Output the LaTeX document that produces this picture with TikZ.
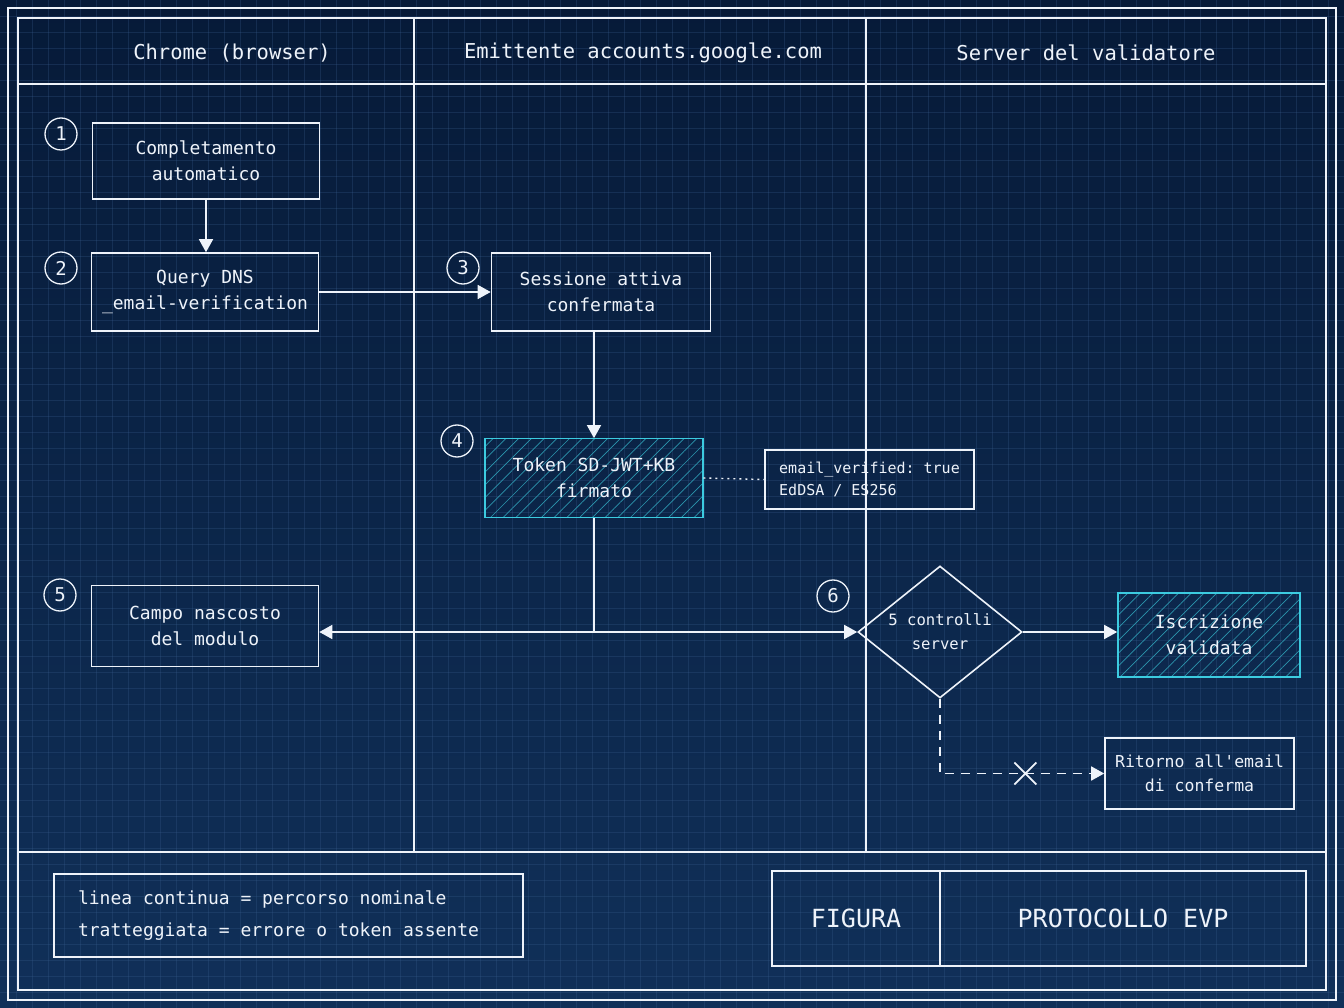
\documentclass[tikz,border=0pt]{standalone}
\usepackage{fontspec}
\setmonofont{DejaVu Sans Mono}
\usetikzlibrary{arrows.meta,calc,shapes.geometric,patterns.meta}
\definecolor{navytop}{HTML}{061A38}
\definecolor{navybot}{HTML}{103059}
\definecolor{gridc}{HTML}{3A5E8E}
\definecolor{ink}{HTML}{EEF3FA}
\definecolor{cyanb}{HTML}{3CCBE0}
\tikzset{>={Triangle[width=14pt,length=13pt]},every node/.style={font=\ttfamily,text=ink},
frame/.style={draw=ink,line width=1.4pt},gridline/.style={gridc,line width=.5pt,opacity=.28},
flow/.style={draw=ink,line width=1.6pt,->},edge/.style={draw=ink,line width=1.6pt},
fail/.style={flow,dash pattern=on 9pt off 7pt},dots/.style={draw=ink,line width=1.4pt,dash pattern=on 2pt off 4pt},
box/.style={draw=ink,line width=1.6pt,align=center,font=\ttfamily\fontsize{18}{26}\selectfont},
hatchbox/.style={box,draw=cyanb,pattern={Lines[angle=45,distance=9pt,line width=.7pt]},pattern color=cyanb!70!navytop},
stepnum/.style={circle,draw=ink,line width=1.3pt,minimum size=32pt,inner sep=0pt,font=\ttfamily\fontsize{19}{19}\selectfont},
lane/.style={font=\ttfamily\fontsize{20.5}{24}\selectfont},
legend/.style={draw=ink,line width=1.6pt,align=flush left,text width=421pt,inner xsep=24pt,minimum height=83pt,font=\ttfamily\fontsize{18}{32}\selectfont},
titlebox/.style={box,minimum height=95pt,font=\ttfamily\fontsize{25}{28}\selectfont}}
\begin{document}
\begin{tikzpicture}[x=1pt,y=-1pt]
\useasboundingbox (0,0) rectangle (1344,1008);
\shade[top color=navytop,bottom color=navybot] (0,0) rectangle (1344,1008);
\foreach \g in {16,32,...,1328}{\draw[gridline] (\g,0)--(\g,1008);}
\foreach \g in {16,32,...,992}{\draw[gridline] (0,\g)--(1344,\g);}
\draw[frame] (8,8) rectangle (1336,1000);\draw[frame] (18,18) rectangle (1326,990);
\draw[frame] (18,84)--(1326,84);\draw[frame] (18,852)--(1326,852);
\draw[frame] (414,18)--(414,852);\draw[frame] (866,18)--(866,852);
\node[lane] (laneA) at (232,53){Chrome (browser)};
\node[lane] (laneB) at (643,53){Emittente accounts.google.com};
\node[lane] (laneC) at (1086,53){Server del validatore};
\node[stepnum] (n1) at (61,134){1};
\node[box,minimum width=227pt,minimum height=76pt] (auto) at (206,161){Completamento\\automatico};
\node[stepnum] (n2) at (61,268){2};
\node[box,minimum width=227pt,minimum height=78pt] (dns) at (205,292){Query DNS\\\_email-verification};
\node[stepnum] (n3) at (463,268){3};
\node[box,minimum width=219pt,minimum height=78pt] (sess) at (601,292){Sessione attiva\\confermata};
\node[stepnum] (n4) at (457,441){4};
\node[hatchbox,minimum width=218pt,minimum height=79pt] (tok) at (594,478){Token SD-JWT+KB\\firmato};
\node[box,align=left,minimum width=209pt,minimum height=59pt,font=\ttfamily\fontsize{15}{22}\selectfont] (note) at (869.5,479.5){email\_verified: true\\EdDSA / ES256};
\node[stepnum] (n5) at (60,595){5};
\node[box,minimum width=227pt,minimum height=81pt] (campo) at (205,626){Campo nascosto\\del modulo};
\node[stepnum] (n6) at (833,596){6};
\node[diamond,draw=ink,line width=1.6pt,aspect=1.24,inner sep=0pt,minimum width=164pt,minimum height=132pt,align=center,font=\ttfamily\fontsize{15.6}{24}\selectfont] (chk) at (940,632){5 controlli\\server};
\node[hatchbox,minimum width=182pt,minimum height=84pt] (valid) at (1209,635){Iscrizione\\validata};
\node[box,minimum width=189pt,minimum height=71pt,font=\ttfamily\fontsize{16.5}{24}\selectfont] (ret) at (1199.5,773.5){Ritorno all'email\\di conferma};
\draw[flow] (auto.south) -- (auto.south |- dns.north);
\draw[flow] (dns.east) -- (sess.west);
\draw[flow] (tok.north |- sess.south) -- (tok.north);
\draw[dots] (tok.east) -- (note.west);
\coordinate (split) at (tok.south |- chk.west);
\draw[edge] (tok.south) -- (split);
\draw[flow] (split) -- (split -| campo.east);
\draw[flow] (split) -- (chk.west);
\draw[flow] (chk.east) -- (chk.east -| valid.west);
\coordinate (bend) at (chk.south |- ret.west);
\draw[fail] (chk.south) -- (bend) -- (ret.west);
\coordinate (cross) at ($(bend)!.52!(ret.west)$);
\draw[ink,line width=1.8pt] ($(cross)+(-11,-11)$) -- ($(cross)+(11,11)$) ($(cross)+(-11,11)$) -- ($(cross)+(11,-11)$);
\node[legend] (key) at (288.5,915.5){linea continua = percorso nominale\\tratteggiata = errore o token assente};
\node[titlebox,minimum width=168pt] (figlab) at (856,918.5){FIGURA};
\node[titlebox,minimum width=366pt] (figttl) at (1123,918.5){PROTOCOLLO EVP};
\end{tikzpicture}
\end{document}
